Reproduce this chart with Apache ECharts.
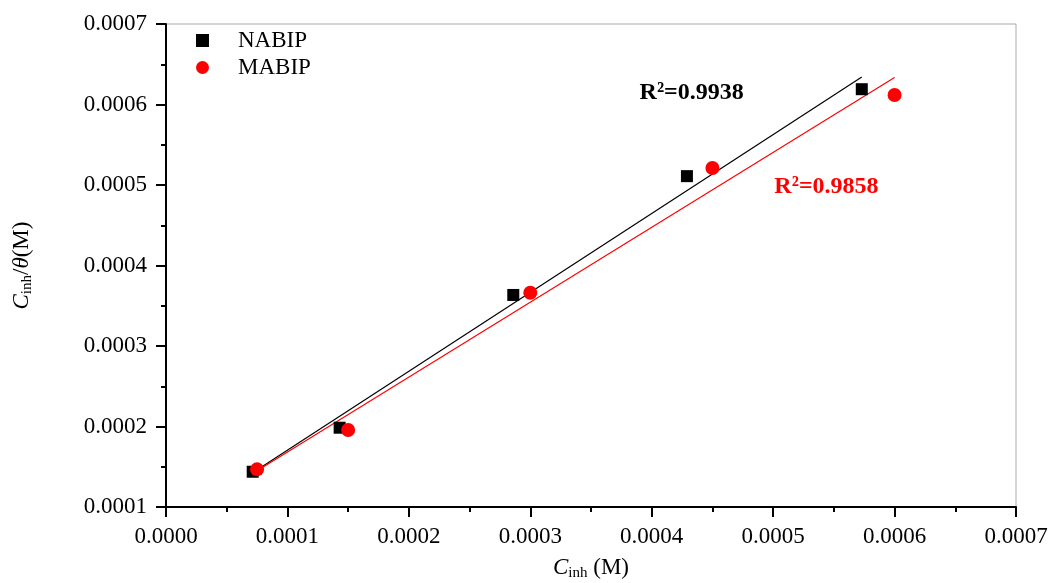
<!DOCTYPE html>
<html><head><meta charset="utf-8">
<script src="https://cdn.jsdelivr.net/npm/echarts@6/dist/echarts.min.js"></script>
<style>html,body{margin:0;padding:0;background:#fff}#c{width:1053px;height:583px}</style>
</head><body><div id="c"></div>
<script>
const nabipX = [0.0000714, 0.000143, 0.000286, 0.000429, 0.000573];
const nabipY = [0.0001438, 0.0001985, 0.0003634, 0.000511, 0.000619];
const mabipX = [0.000075, 0.00015, 0.0003, 0.00045, 0.0006];
const mabipY = [0.0001468, 0.0001957, 0.0003662, 0.0005211, 0.0006118];
const r2Labels = ['R²=0.9938', 'R²=0.9858'];
const r2Pos = [[0.000390, 0.000614], [0.000501, 0.0004975]];

function fit(xs, ys){
  const n = xs.length;
  const mx = xs.reduce((a,b)=>a+b,0)/n, my = ys.reduce((a,b)=>a+b,0)/n;
  let sxy=0, sxx=0;
  for(let i=0;i<n;i++){sxy+=(xs[i]-mx)*(ys[i]-my); sxx+=(xs[i]-mx)*(xs[i]-mx);}
  const k = sxy/sxx, b = my-k*mx;
  const x0 = Math.min(...xs), x1 = Math.max(...xs);
  return [[x0, k*x0+b],[x1, k*x1+b]];
}
const font = 'Liberation Serif';
const fs = 23;
const chart = echarts.init(document.getElementById('c'));
chart.setOption({
  animation:false,
  backgroundColor:'#fff',
  grid:{left:166, right:37, top:24, bottom:76, show:true, borderColor:'#aaa', borderWidth:1,
        containLabel:false, outerBoundsMode:'none'},
  legend:{
    orient:'vertical', left:191, top:24, itemGap:4, itemWidth:13, itemHeight:13,
    textStyle:{fontFamily:font, fontSize:fs, color:'#000', padding:[0,0,0,24]},
    data:[{name:'NABIP', icon:'rect'},{name:'MABIP', icon:'circle'}]
  },
  xAxis:{
    type:'value', min:0, max:0.0007, interval:0.0001,
    axisLine:{lineStyle:{color:'#000', width:2}},
    axisTick:{show:true, length:10, lineStyle:{width:2, color:'#000'}},
    minorTick:{show:true, splitNumber:2, length:5, lineStyle:{width:2, color:'#000'}},
    splitLine:{show:false},
    axisLabel:{margin:18, fontFamily:font, fontSize:fs, color:'#000', formatter:v=>v.toFixed(4)},
    name:'{i|C}{s|inh} (M)', nameLocation:'middle', nameGap:47,
    nameTextStyle:{fontFamily:font, fontSize:fs, color:'#000',
      rich:{i:{fontFamily:font, fontSize:fs, fontStyle:'italic', color:'#000'},
            s:{fontFamily:font, fontSize:15, color:'#000', padding:[12,0,0,0]}}}
  },
  yAxis:{
    type:'value', min:0.0001, max:0.0007, interval:0.0001,
    axisLine:{lineStyle:{color:'#000', width:2}},
    axisTick:{show:true, length:10, lineStyle:{width:2, color:'#000'}},
    minorTick:{show:true, splitNumber:2, length:5, lineStyle:{width:2, color:'#000'}},
    splitLine:{show:false},
    axisLabel:{margin:19, fontFamily:font, fontSize:fs, color:'#000', formatter:v=>v.toFixed(4)},
    name:'{i|C}{s|inh}/{i|θ}(M)', nameLocation:'middle', nameGap:131, nameRotate:90,
    nameTextStyle:{fontFamily:font, fontSize:fs, color:'#000',
      rich:{i:{fontFamily:font, fontSize:fs, fontStyle:'italic', color:'#000'},
            s:{fontFamily:font, fontSize:15, color:'#000', padding:[12,0,0,0]}}}
  },
  series:[
    {name:'NABIP_fit', type:'line', data:fit(nabipX, nabipY), symbol:'none', lineStyle:{color:'#000', width:1.2}, z:1},
    {name:'MABIP_fit', type:'line', data:fit(mabipX, mabipY), symbol:'none', lineStyle:{color:'#ff0000', width:1.2}, z:1},
    {name:'NABIP', type:'scatter', symbol:'rect', symbolSize:12, itemStyle:{color:'#000', opacity:1},
      data:nabipX.map((x,i)=>[x, nabipY[i]]), z:3},
    {name:'MABIP', type:'scatter', symbol:'circle', symbolSize:14, itemStyle:{color:'#ff0000', opacity:1},
      data:mabipX.map((x,i)=>[x, mabipY[i]]), z:4}
  ]
});
const p1 = chart.convertToPixel({gridIndex:0}, r2Pos[0]);
const p2 = chart.convertToPixel({gridIndex:0}, r2Pos[1]);
chart.setOption({graphic:[
  {type:'text', x:p1[0], y:p1[1], style:{text:r2Labels[0], fontFamily:font, fontSize:24, fontWeight:'bold', fill:'#000', textAlign:'left', textVerticalAlign:'middle'}},
  {type:'text', x:p2[0], y:p2[1], style:{text:r2Labels[1], fontFamily:font, fontSize:24, fontWeight:'bold', fill:'#ff0000', textAlign:'left', textVerticalAlign:'middle'}}
]});
</script></body></html>
